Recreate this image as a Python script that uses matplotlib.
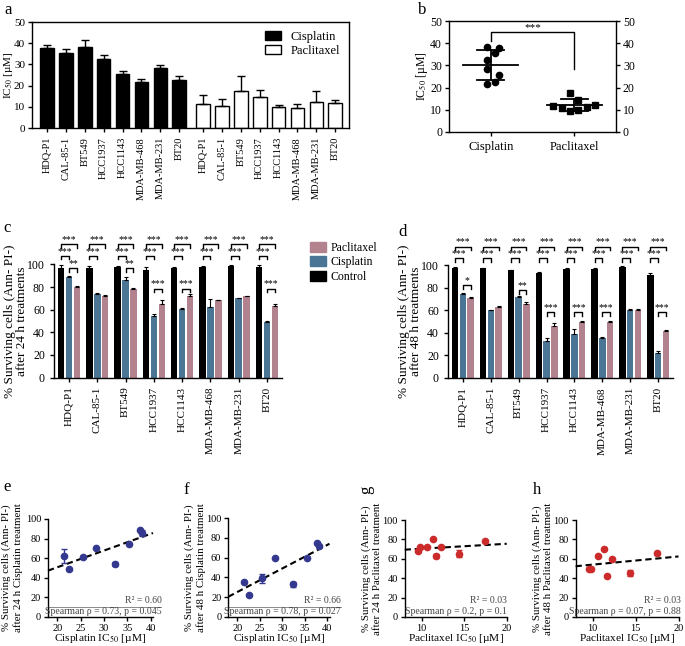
import numpy as np
import matplotlib
matplotlib.use("Agg")
import matplotlib.pyplot as plt
from matplotlib.patches import Patch

plt.rcParams["font.family"] = ["Liberation Serif", "DejaVu Serif"]
plt.rcParams["mathtext.fontset"] = "stix"
plt.rcParams["axes.linewidth"] = 1.0
plt.rcParams["xtick.major.width"] = 1.0
plt.rcParams["ytick.major.width"] = 1.0
plt.rcParams["xtick.major.size"] = 3
plt.rcParams["ytick.major.size"] = 3

# cell lines
lines = ["HDQ-P1", "CAL-85-1", "BT549", "HCC1937", "HCC1143", "MDA-MB-468", "MDA-MB-231", "BT20"]

# IC50 [uM] (mean, SD)
cis_ic50 = [37.7, 35.4, 38.2, 32.4, 25.6, 21.5, 28.3, 22.5]
cis_ic50_err = [1.6, 1.9, 3.5, 2.2, 1.1, 1.5, 1.6, 1.9]
pac_ic50 = [11.3, 10.6, 17.5, 14.4, 9.8, 9.6, 12.3, 11.7]
pac_ic50_err = [4.1, 2.9, 7.2, 3.7, 1.2, 1.6, 5.0, 1.3]

# % surviving cells after 24 h
ctrl24 = [97.0, 97.0, 98.2, 95.3, 97.3, 98.2, 99.0, 97.6]
ctrl24_err = [2.4, 2.0, 0.6, 2.9, 0.3, 0.6, 0.3, 2.1]
cis24 = [89.0, 74.3, 86.0, 54.0, 61.0, 62.0, 70.0, 48.8]
cis24_err = [1.2, 0.9, 3.0, 2.0, 0.9, 7.4, 0.6, 0.9]
pac24 = [80.5, 72.5, 78.4, 65.4, 72.0, 68.3, 72.0, 63.0]
pac24_err = [0.4, 0.4, 0.6, 3.2, 1.7, 0.4, 0.3, 2.0]

# % surviving cells after 48 h
ctrl48 = [97.4, 97.0, 95.3, 92.6, 96.5, 96.8, 98.5, 91.2]
ctrl48_err = [0.5, 0.4, 0.4, 1.4, 0.5, 0.4, 0.3, 1.7]
cis48 = [74.3, 60.0, 71.7, 33.0, 39.0, 35.4, 60.0, 22.4]
cis48_err = [0.5, 0.6, 0.9, 2.5, 4.4, 0.6, 0.9, 1.2]
pac48 = [70.5, 63.0, 65.5, 45.7, 49.8, 50.0, 60.0, 42.0]
pac48_err = [0.8, 0.5, 1.5, 3.0, 0.6, 0.6, 0.9, 0.6]

# significance between cisplatin and paclitaxel: (cell line index, bracket height, label)
sig24 = [(0, 96.5, "**"), (2, 96.5, "**"), (3, 78.5, "***"), (4, 78.5, "***"), (7, 78.5, "***")]
sig48 = [(0, 82, "*"), (2, 77.5, "**"), (3, 58, "***"), (4, 58, "***"), (5, 58, "***"), (7, 58, "***")]

# correlation stats
stats = {"e": ("R² = 0.60", "Spearman ρ = 0.73, p = 0.045"),
         "f": ("R² = 0.66", "Spearman ρ = 0.78, p = 0.027"),
         "g": ("R² = 0.03", "Spearman ρ = 0.2, p = 0.1"),
         "h": ("R² = 0.03", "Spearman ρ = 0.07, p = 0.88")}

# beeswarm offsets for panel b
cis_jit = [0.1, 0.05, -0.05, -0.05, 0.1, -0.05, -0.05, 0.05]
pac_jit = [0.15, -0.15, -0.05, 0.05, 0.05, -0.05, 0.25, -0.25]

BLUE = "#4b7595"
PINK = "#b2828f"
W, H = 685, 646
fig = plt.figure(figsize=(W / 100, H / 100), dpi=100)


def add_ax(l, t, r, b):
    return fig.add_axes([l / W, 1 - b / H, (r - l) / W, (b - t) / H])


def bracket(ax, x1, x2, y, label, leg=3, fs=7):
    ax.plot([x1, x1, x2, x2], [y - leg, y, y, y - leg], color="k", lw=1, clip_on=False)
    ax.text((x1 + x2) / 2, y + 0.3, label, ha="center", va="bottom", fontsize=fs)


# ---------------- a ----------------
ax = add_ax(32, 22, 349, 128)
xc = np.arange(8)
xp = np.arange(8) + 8.27
ax.bar(xc, cis_ic50, 0.72, color="k", edgecolor="k", lw=1, label="Cisplatin",
       yerr=[np.zeros(8), cis_ic50_err], error_kw=dict(capsize=3, lw=1, capthick=1))
ax.bar(xp, pac_ic50, 0.72, color="white", edgecolor="k", lw=1, label="Paclitaxel",
       yerr=[np.zeros(8), pac_ic50_err], error_kw=dict(capsize=3, lw=1, capthick=1))
ax.set_xlim(-0.8, 16.0)
ax.set_ylim(0, 50)
ax.set_yticks(range(0, 51, 10))
ax.set_xticks(np.concatenate([xc, xp]))
ax.set_xticklabels(lines + lines, rotation=90, fontsize=7.5)
ax.tick_params(axis="y", labelsize=8, pad=2)
ax.set_ylabel("IC$_{50}$ [µM]", fontsize=8)
ax.yaxis.set_label_coords(-0.055, 0.5)
ax.legend(loc="upper right", frameon=False, fontsize=9, handlelength=1.3, handleheight=0.8,
          labelspacing=0.15, borderaxespad=0.3)

# ---------------- b ----------------
ax = add_ax(449, 21, 616, 132)
for i, (vals, jit, mk) in enumerate([(cis_ic50, cis_jit, "o"), (pac_ic50, pac_jit, "s")]):
    v = np.array(vals)
    ax.plot(i + np.array(jit), v, mk, color="k", ms=4.5)
    m, sd = v.mean(), v.std(ddof=1)
    ax.plot([i - 0.33, i + 0.33], [m, m], color="k", lw=1.3)
    ax.plot([i - 0.16, i + 0.16], [m + sd, m + sd], color="k", lw=1.3)
    ax.plot([i - 0.16, i + 0.16], [m - sd, m - sd], color="k", lw=1.3)
    ax.plot([i, i], [m - sd, m + sd], color="k", lw=1.3)
ax.plot([0, 0, 1, 1], [41, 45, 45, 28.5], color="k", lw=1)
ax.text(0.5, 45.2, "***", ha="center", va="bottom", fontsize=8)
ax.set_xlim(-0.5, 1.5)
ax.set_ylim(0, 50)
ax.set_yticks(range(0, 51, 10))
ax.set_xticks([0, 1])
ax.set_xticklabels(["Cisplatin", "Paclitaxel"], fontsize=9)
ax.tick_params(axis="y", labelsize=8.5, right=True, labelright=True, pad=2)
ax.set_ylabel("IC$_{50}$ [µM]", fontsize=8.5)
ax.yaxis.set_label_coords(-0.115, 0.5)


# ---------------- c, d ----------------
def surv_panel(ax, ctrl, ctrl_e, cis, cis_e, pac, pac_e, sig, hours, ytop, ymid, lx):
    x = np.arange(8)
    ek = dict(capsize=1.5, lw=0.8, capthick=0.8)
    ax.bar(x - 0.28, ctrl, 0.23, color="k", yerr=[np.zeros(8), ctrl_e], error_kw=ek, label="Control")
    ax.bar(x, cis, 0.23, color=BLUE, yerr=[np.zeros(8), cis_e], error_kw=ek, label="Cisplatin")
    ax.bar(x + 0.28, pac, 0.23, color=PINK, yerr=[np.zeros(8), pac_e], error_kw=ek, label="Paclitaxel")
    for i in range(8):
        bracket(ax, i - 0.28, i + 0.28, ytop, "***")
        bracket(ax, i - 0.28, i, ymid, "***")
    for i, h, lab in sig:
        bracket(ax, i, i + 0.28, h, lab)
    ax.set_xlim(-0.53, 7.53)
    ax.set_ylim(0, 100)
    ax.set_yticks(range(0, 101, 20))
    ax.set_xticks(x)
    ax.set_xticklabels(lines, rotation=90, fontsize=8)
    ax.tick_params(axis="y", labelsize=8.5)
    for s in ["top", "right"]:
        ax.spines[s].set_visible(False)
    ax.set_ylabel("%% Surviving cells (Ann- PI-)\nafter %d h treatments" % hours, fontsize=9.5,
                  linespacing=1.0)
    ax.yaxis.set_label_coords(lx, 0.5)


ax_c = add_ax(54, 264.5, 282, 377.5)
surv_panel(ax_c, ctrl24, ctrl24_err, cis24, cis24_err, pac24, pac24_err, sig24, 24, 118, 107.5, -0.115)
ax_c.legend(handles=[Patch(color=PINK, label="Paclitaxel"), Patch(color=BLUE, label="Cisplatin"),
                     Patch(color="k", label="Control")],
            loc="upper left", bbox_to_anchor=(1.1, 1.24), frameon=False, fontsize=8.5,
            handlelength=1.4, handleheight=0.9, labelspacing=0.2, borderaxespad=0, handletextpad=0.4)

ax_d = add_ax(448, 265, 673, 378)
surv_panel(ax_d, ctrl48, ctrl48_err, cis48, cis48_err, pac48, pac48_err, sig48, 48, 116, 106, -0.115)


# ---------------- e-h ----------------
def corr_panel(ax, xv, yv, ye, color, drug, hours, xlim, xticks, st, tx, lx, line=False):
    xv, yv = np.array(xv), np.array(yv)
    ax.errorbar(xv, yv, yerr=ye, fmt="o", color=color, ms=4.5, capsize=2, lw=1, zorder=3)
    k, b0 = np.polyfit(xv, yv, 1)
    xx = np.array(xlim)
    ax.plot(xx, k * xx + b0, "--", color="k", lw=1.5, dashes=(3, 1.8), clip_on=False)
    ax.set_xlim(*xlim)
    ax.set_ylim(0, 100)
    ax.set_yticks(range(0, 101, 20))
    ax.set_xticks(xticks)
    ax.tick_params(labelsize=7.5, pad=2)
    for s in ["top", "right"]:
        ax.spines[s].set_visible(False)
    ax.set_ylabel("%% Surviving cells (Ann- PI-)\nafter %d h %s treatment" % (hours, drug),
                  fontsize=7.8, linespacing=1.3)
    ax.yaxis.set_label_coords(lx, 0.5)
    ax.set_xlabel("%s IC$_{50}$ [µM]" % drug, fontsize=8.2, labelpad=-1)
    ax.text(tx, 0.17, st[0], transform=ax.transAxes, ha="right", va="center", fontsize=7, color="#444444")
    ax.text(tx, 0.055, st[1], transform=ax.transAxes, ha="right", va="center", fontsize=7, color="#444444")
    if line:
        ax.plot([0, tx], [0.105, 0.105], transform=ax.transAxes, color="#777777", lw=0.6, clip_on=False)


RED = "#cc2b2b"
NAVY = "#34398f"
ax = add_ax(48, 519, 153, 617)
corr_panel(ax, cis_ic50, cis24, cis24_err, NAVY, "Cisplatin", 24, (18, 40.5), [20, 25, 30, 35, 40],
           stats["e"], 1.08, -0.235, True)
ax = add_ax(228.3, 518, 329.5, 617)
corr_panel(ax, cis_ic50, cis48, cis48_err, NAVY, "Cisplatin", 48, (18, 40.5), [20, 25, 30, 35, 40],
           stats["f"], 1.11, -0.225, True)
ax = add_ax(404.7, 520, 506.7, 617)
corr_panel(ax, pac_ic50, pac24, pac24_err, RED, "Paclitaxel", 24, (8, 20), [10, 15, 20],
           stats["g"], 1.0, -0.225)
ax = add_ax(575.6, 520, 678.5, 617)
corr_panel(ax, pac_ic50, pac48, pac48_err, RED, "Paclitaxel", 48, (8, 20), [10, 15, 20],
           stats["h"], 1.02, -0.22)

# panel letters
for lab, x, y, rot in [("a", 8, 10, 0), ("b", 422, 10, 0), ("c", 7, 228, 0), ("d", 403, 232, 0),
                       ("e", 7, 487, 0), ("f", 186, 490, 0), ("g", 366, 490, 90), ("h", 537, 490, 0)]:
    fig.text(x / W, 1 - y / H, lab, fontsize=12, ha="center", va="center", rotation=rot)

fig.savefig("out.png", dpi=100)
